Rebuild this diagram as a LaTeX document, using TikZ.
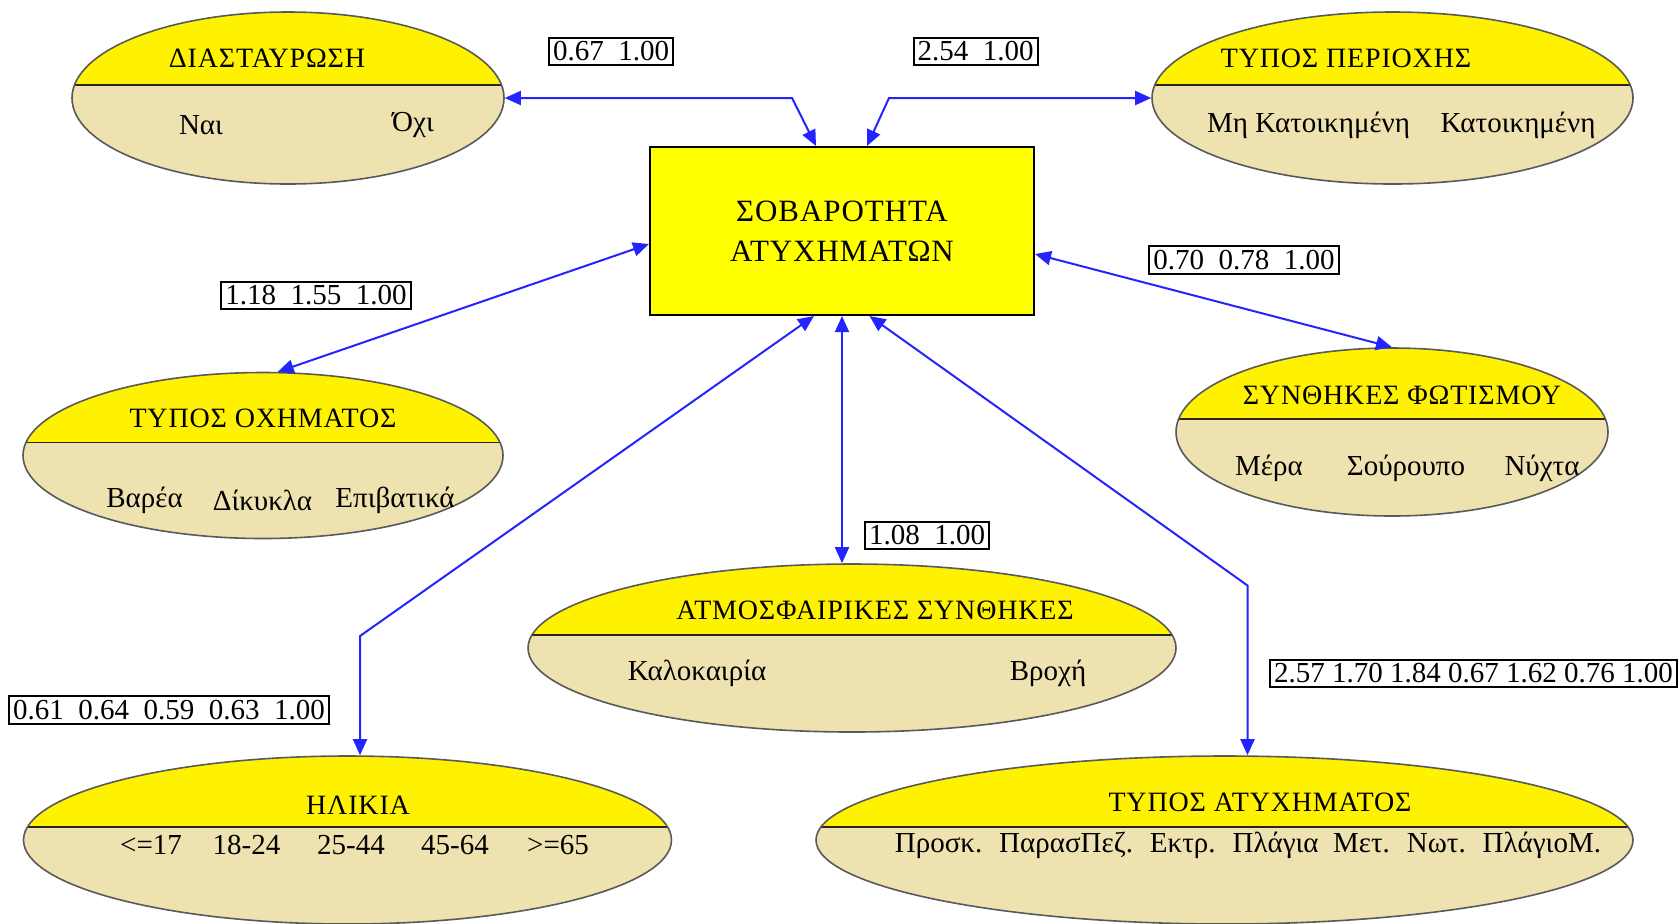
\documentclass[tikz,border=0pt]{standalone}
\usepackage{fontspec}
\setmainfont{Liberation Serif}
\newfontfamily\ttlfont[LetterSpace=3]{Liberation Serif}
\usepackage{xcolor}
\usepackage{tikz}
\usetikzlibrary{calc}
\usetikzlibrary {arrows.meta}
\usetikzlibrary {shapes.geometric}
\definecolor{Y0}{HTML}{FFF200}
\definecolor{Y1}{HTML}{FFFF00}
\definecolor{B0}{HTML}{EEE2B0}
\definecolor{L0}{HTML}{2424FF}

\begin{document}
\begin{tikzpicture}[x=0.5pt,y=-0.5pt]
\tikzstyle{ent}=[draw=black!65, line width=0.8pt, shape=ellipse, fill=B0, inner sep=0pt, minimum height=84pt,
  path picture={\fill[Y0] (path picture bounding box.north west) rectangle ([yshift=6.5pt]path picture bounding box.east);
    \draw[black!85, line width=0.9pt] ([yshift=6.5pt]path picture bounding box.west) -- ([yshift=6.5pt]path picture bounding box.east);}]
\tikzstyle{ttl}=[inner sep=0pt, font=\ttlfont\fontsize{14}{17}\selectfont]
\tikzstyle{itm}=[inner sep=0pt, font=\fontsize{14.5}{17}\selectfont]
\tikzstyle{wgt}=[draw, line width=1pt, fill=white, inner sep=2pt, font=\fontsize{14.5}{17}\selectfont]
\tikzstyle{core}=[draw, line width=1pt, fill=Y1, minimum width=192pt, minimum height=84pt, align=center, font=\ttlfont\fontsize{15.5}{20}\selectfont]
\tikzstyle{conn}=[draw=L0, line width=1pt, {Triangle[length=8pt,width=7pt]}-{Triangle[length=8pt,width=7pt]}]
\useasboundingbox (0,0) rectangle (1679,923);
%
\node[core](sev) at (842,231){ΣΟΒΑΡΟΤΗΤΑ\\ΑΤΥΧΗΜΑΤΩΝ};
%
\node[ent, minimum width=216pt, minimum height=86pt](diast) at (288,98){};
\node[ttl](diastttl) at (267,58){ΔΙΑΣΤΑΥΡΩΣΗ};
\node[itm](diast1) at (201,125){Ναι};
\node[itm](diast2) at (413,125){Όχι};
%
\node[ent, minimum width=240.5pt, minimum height=86pt](perioxi) at (1392.5,98){};
\node[ttl](perioxittl) at (1346,58){ΤΥΠΟΣ ΠΕΡΙΟΧΗΣ};
\node[itm](perioxi1) at (1308.5,125){Μη Κατοικημένη};
\node[itm](perioxi2) at (1518,125){Κατοικημένη};
%
\node[ent, minimum width=240pt, minimum height=83pt](oxima) at (263,455.5){};
\node[ttl](oximattl) at (263,418){ΤΥΠΟΣ ΟΧΗΜΑΤΟΣ};
\node[itm](oxima1) at (144.5,500){Βαρέα};
\node[itm](oxima2) at (262.5,500){Δίκυκλα};
\node[itm](oxima3) at (395,500){Επιβατικά};
%
\node[ent, minimum width=216pt](fotismos) at (1392,432){};
\node[ttl](fotismosttl) at (1402,395){ΣΥΝΘΗΚΕΣ ΦΩΤΙΣΜΟΥ};
\node[itm](fotismos1) at (1269,468){Μέρα};
\node[itm](fotismos2) at (1406,468){Σούρουπο};
\node[itm](fotismos3) at (1542,468){Νύχτα};
%
\node[ent, minimum width=324pt](atmosf) at (852,648){};
\node[ttl](atmosfttl) at (875,610){ΑΤΜΟΣΦΑΙΡΙΚΕΣ ΣΥΝΘΗΚΕΣ};
\node[itm](atmosf1) at (697,673.5){Καλοκαιρία};
\node[itm](atmosf2) at (1048,673.5){Βροχή};
%
\node[ent, minimum width=324pt](ilikia) at (347.5,840){};
\node[ttl](ilikiattl) at (358,805){ΗΛΙΚΙΑ};
\node[itm](ilikia1) at (151,845){<=17};
\node[itm](ilikia2) at (246.5,845){18-24};
\node[itm](ilikia3) at (351,845){25-44};
\node[itm](ilikia4) at (455,845){45-64};
\node[itm](ilikia5) at (558,845){>=65};
%
\node[ent, minimum width=408.5pt](atyxima) at (1224.5,840){};
\node[ttl](atyximattl) at (1260,802){ΤΥΠΟΣ ΑΤΥΧΗΜΑΤΟΣ};
\node[itm](atyxima1) at (1248,845){Προσκ.~ ΠαρασΠεζ.~ Εκτρ.~ Πλάγια~ Μετ.~ Νωτ.~ ΠλάγιοΜ.};
%
\coordinate (kdiast) at (792,98);
\coordinate (kperioxi) at (889,98);
\coordinate (kilikia) at (360,636);
\coordinate (katyxima) at (1247.5,585.5);
\draw[conn] (diast.east) -- (kdiast) -- ($(sev.north)+(-26,0)$);
\draw[conn] ($(sev.north)+(25,0)$) -- (kperioxi) -- (perioxi.west);
\draw[conn] ($(sev.west)+(0,13)$) -- (oxima.80);
\draw[conn] ($(sev.east)+(0,23)$) -- (fotismos.north);
\draw[conn] (sev.south) -- (sev.south |- atmosf.north);
\draw[conn] ($(sev.south)+(-28,0)$) -- (kilikia) -- (kilikia |- ilikia.north);
\draw[conn] ($(sev.south)+(27.5,0)$) -- (katyxima) -- (katyxima |- atyxima.north);
%
\node[wgt](wdiast) at (611,51.5){0.67~~1.00};
\node[wgt](wperioxi) at (975.5,51.5){2.54~~1.00};
\node[wgt](wfotismos) at (1244,260){0.70~~0.78~~1.00};
\node[wgt](woxima) at (316,295.5){1.18~~1.55~~1.00};
\node[wgt](watmosf) at (927,535.5){1.08~~1.00};
\node[wgt](wilikia) at (169,710){0.61~~0.64~~0.59~~0.63~~1.00};
\node[wgt](watyxima) at (1473.5,673.5){2.57 1.70 1.84 0.67 1.62 0.76 1.00};
%
\end{tikzpicture}
\end{document}
